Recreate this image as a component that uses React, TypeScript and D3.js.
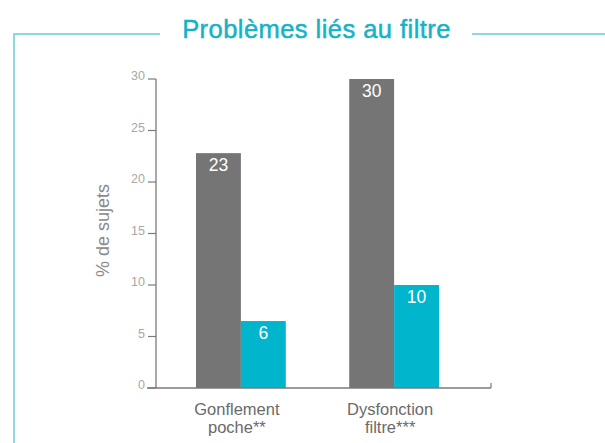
import React from "react";
import * as d3 from "d3";

const title = "Problèmes liés au filtre";
const categories = ["Gonflement|poche**", "Dysfonction|filtre***"];
const seriesNames = ["Groupe A", "Groupe B"];
const greyValues = [22.8, 30];
const cyanValues = [6.5, 10];
const greyLabels = ["23", "30"];
const cyanLabels = ["6", "10"];
const yTicks = [0, 5, 10, 15, 20, 25, 30];
const yLabel = "% de sujets";

const W = 605;
const H = 443;
const FONT = "Liberation Sans, Arimo, Arial, sans-serif";

export default function App() {
  const y = d3.scaleLinear().domain([0, 30]).range([388, 79]);
  const x0 = d3.scaleBand().domain(categories).range([196, 439]).paddingInner(0.414).paddingOuter(0);
  const x1 = d3.scaleBand().domain(seriesNames).range([0, x0.bandwidth()]).padding(0);
  const colors = ["#757575", "#00b5cc"];
  const series = [greyValues, cyanValues];
  const labels = [greyLabels, cyanLabels];

  return (
    <svg width={W} height={H} style={{ position: "absolute", left: 0, top: 0, display: "block", background: "#fff" }}>
      {/* frame */}
      <path d={`M14,${H} L14,34 L160,34`} fill="none" stroke="#6ccbd6" strokeWidth={1.5} />
      <line x1={472} x2={W} y1={34} y2={34} stroke="#6ccbd6" strokeWidth={1.5} />
      <text x={316.5} y={37.5} textAnchor="middle" fontFamily={FONT} fontSize={25.5} letterSpacing={0.45} fill="#16b2c6" stroke="#16b2c6" strokeWidth={0.5}>
        {title}
      </text>

      {/* y axis */}
      <line x1={156} x2={156} y1={y(30)} y2={y(0)} stroke="#7a7a7a" strokeWidth={1.3} />
      {yTicks.map((t) => (
        <g key={t}>
          <line x1={148} x2={156} y1={y(t)} y2={y(t)} stroke="#7a7a7a" strokeWidth={1.2} />
          <text x={145} y={y(t) + 1} textAnchor="end" fontFamily={FONT} fontSize={12.5} fill="#a8a8a8">
            {t}
          </text>
        </g>
      ))}
      <text
        transform={`translate(109,${(y(0) + y(30)) / 2 - 3}) rotate(-90)`}
        textAnchor="middle"
        fontFamily={FONT}
        fontSize={18}
        fill="#8a8a8a"
      >
        {yLabel}
      </text>

      {/* bars */}
      {categories.map((c, i) => (
        <g key={c} transform={`translate(${x0(c)},0)`}>
          {seriesNames.map((s, j) => (
            <g key={s}>
              <rect
                x={x1(s)}
                y={y(series[j][i])}
                width={x1.bandwidth()}
                height={y(0) - y(series[j][i])}
                fill={colors[j]}
              />
              <text
                x={(x1(s) as number) + x1.bandwidth() / 2}
                y={y(series[j][i]) + 18}
                textAnchor="middle"
                fontFamily={FONT}
                fontSize={17.5}
                fill="#ffffff"
              >
                {labels[j][i]}
              </text>
            </g>
          ))}
        </g>
      ))}

      {/* x axis */}
      <line x1={147} x2={491} y1={y(0)} y2={y(0)} stroke="#7a7a7a" strokeWidth={1.3} />
      <line x1={491} x2={491} y1={y(0)} y2={y(0) - 5} stroke="#7a7a7a" strokeWidth={1.2} />
      {categories.map((c) => {
        const [l1, l2] = c.split("|");
        const cx = (x0(c) as number) + x0.bandwidth() / 2 - 4;
        return (
          <text key={c} x={cx} textAnchor="middle" fontFamily={FONT} fontSize={16.5} fill="#6a6a6a">
            <tspan x={cx} y={415}>{l1}</tspan>
            <tspan x={cx} y={433}>{l2}</tspan>
          </text>
        );
      })}
    </svg>
  );
}
